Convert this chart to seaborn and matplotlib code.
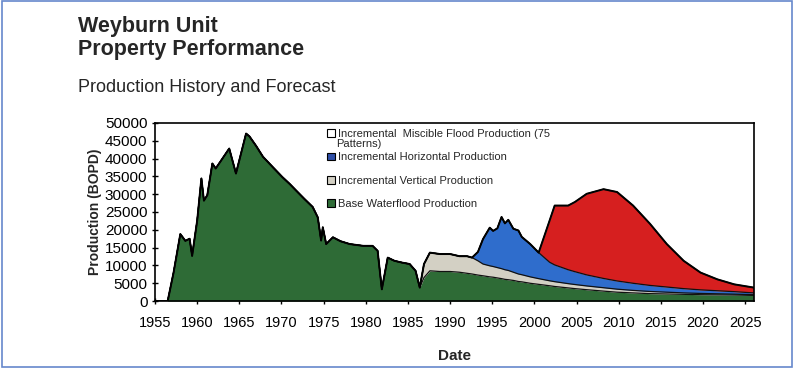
import numpy as np
import pandas as pd
import matplotlib
matplotlib.use("Agg")
import matplotlib.pyplot as plt
import matplotlib.patches as mpatches
import seaborn as sns

years = [1955.0, 1956.5, 1957.2, 1958.0, 1958.6, 1959.1, 1959.4, 1960.0, 1960.5, 1960.8,
         1961.2, 1961.8, 1962.2, 1963.0, 1963.8, 1964.6, 1965.8, 1966.2, 1967.0, 1967.8,
         1969.0, 1970.1, 1971.0, 1971.7, 1972.7, 1973.7, 1974.3, 1974.7, 1974.9, 1975.3,
         1976.1, 1977.0, 1978.1, 1979.7, 1980.8, 1981.4, 1981.9, 1982.6, 1983.4, 1984.3,
         1985.2, 1985.9, 1986.4, 1986.9, 1987.6, 1988.8, 1990.0, 1991.1, 1992.0, 1992.6,
         1993.3, 1993.9, 1994.7, 1995.1, 1995.6, 1996.1, 1996.5, 1996.9, 1997.5, 1998.1,
         1998.5, 1999.5, 2000.5, 2001.8, 2002.4, 2004.0, 2004.8, 2006.2, 2008.2, 2009.8,
         2011.7, 2013.7, 2015.7, 2017.7, 2019.7, 2021.7, 2023.7, 2026.0]

base = [0, 0, 8000, 18800, 16900, 17500, 12700, 22600, 34400, 28200,
        29700, 38600, 37200, 40000, 42800, 35800, 47000, 46200, 43500, 40500,
        37500, 34800, 32800, 31100, 28700, 26400, 23500, 17000, 20700, 16000,
        17900, 16800, 16000, 15500, 15500, 14100, 3300, 12200, 11300, 10800,
        10400, 8500, 3800, 6600, 8500, 8300, 8300, 8100, 7800, 7600,
        7300, 7100, 6800, 6700, 6500, 6300, 6100, 6000, 5800, 5500,
        5400, 5000, 4700, 4300, 4100, 3700, 3500, 3200, 2800, 2500,
        2300, 2100, 2000, 1900, 1800, 1750, 1700, 1600]

vertical = [0] * 42 + [0, 3800, 5100, 4900, 4900, 4500, 4800, 4600,
                       4000, 3300, 3100, 3000, 2900, 2800, 2700, 2600, 2300, 2100,
                       2000, 1800, 1600, 1400, 1350, 1200, 1150, 1050, 950, 850,
                       700, 600, 500, 400, 350, 300, 250, 200]

horizontal = [0] * 49 + [0,
                         2500, 7000, 10700, 10000, 11000, 14500, 13000, 14200, 12200, 12200,
                         10600, 9200, 7300, 5200, 4700, 3900, 3600, 3100, 2600, 2300,
                         2000, 1700, 1450, 1200, 1000, 850, 700, 500]

miscible = [0] * 62 + [0, 11700, 16650, 18000, 19550, 22750, 25050, 24950,
                       21800, 17300, 12050, 7800, 4850, 3200, 2050, 1500]

df = pd.DataFrame({"Date": years, "Base": base, "Vertical": vertical,
                   "Horizontal": horizontal, "Miscible": miscible})

sns.set_style("white")
plt.rcParams['font.family'] = ['Liberation Sans', 'DejaVu Sans']

fig = plt.figure(figsize=(7.95, 3.69), dpi=100)
ax = fig.add_axes([0.195, 0.184, 0.753, 0.483])

cols = ["Base", "Vertical", "Horizontal", "Miscible"]
colors = ["#2e6b36", "#d3d0c4", "#2f6dcc", "#d61f1f"]
bottom = np.zeros(len(df))
for c, col in zip(cols, colors):
    top = bottom + df[c].values
    ax.fill_between(df["Date"], bottom, top, color=col, linewidth=0)
    bottom = top
# layer outlines
cum = df[cols].cumsum(axis=1)
for c in cols:
    sns.lineplot(x=df["Date"], y=cum[c], ax=ax, color="#111111", lw=0.9)
sns.lineplot(x=df["Date"], y=cum["Miscible"], ax=ax, color="black", lw=1.4)

ax.set_xlim(1955, 2026)
ax.set_ylim(0, 50000)
ax.set_xticks(range(1955, 2026, 5))
ax.set_yticks(range(0, 50001, 5000))
ax.tick_params(axis='x', direction='inout', length=5, width=1, labelsize=10.5,
               colors='black', pad=8, bottom=True)
ax.tick_params(axis='y', direction='inout', length=5, width=1, labelsize=11,
               colors='black', pad=3, left=True)
ax.set_xlabel("Date", fontsize=11, fontweight='bold', labelpad=14)
ax.set_ylabel("Production (BOPD)", fontsize=10, fontweight='bold', labelpad=2)
for s in ax.spines.values():
    s.set_color('black')
    s.set_linewidth(1.2)

handles = [mpatches.Patch(facecolor=c, edgecolor='black', lw=0.8)
           for c in ["white", "#2f4fa8", "#d3d0c4", "#2e6b36"]]
labels = ["Incremental  Miscible Flood Production (75",
          "Incremental Horizontal Production",
          "Incremental Vertical Production",
          "Base Waterflood Production"]
ax.legend(handles, labels, loc='upper left', bbox_to_anchor=(0.28, 0.99), frameon=False,
          fontsize=8, handlelength=0.7, handleheight=0.7, handletextpad=0.3,
          labelspacing=1.2, borderaxespad=0)
ax.text(0.302, 0.88, "Patterns)", transform=ax.transAxes, fontsize=8, va='center')

fig.text(0.098, 0.928, "Weyburn Unit", fontsize=15.5, fontweight='bold', va='center')
fig.text(0.098, 0.867, "Property Performance", fontsize=15.5, fontweight='bold', va='center')
fig.text(0.098, 0.763, "Production History and Forecast", fontsize=13, va='center')

fig.patches.append(mpatches.Rectangle((0.002, 0.006), 0.994, 0.99, transform=fig.transFigure,
                                      fill=False, edgecolor='#6688cc', lw=1.2))

fig.savefig("out.png", dpi=100)
